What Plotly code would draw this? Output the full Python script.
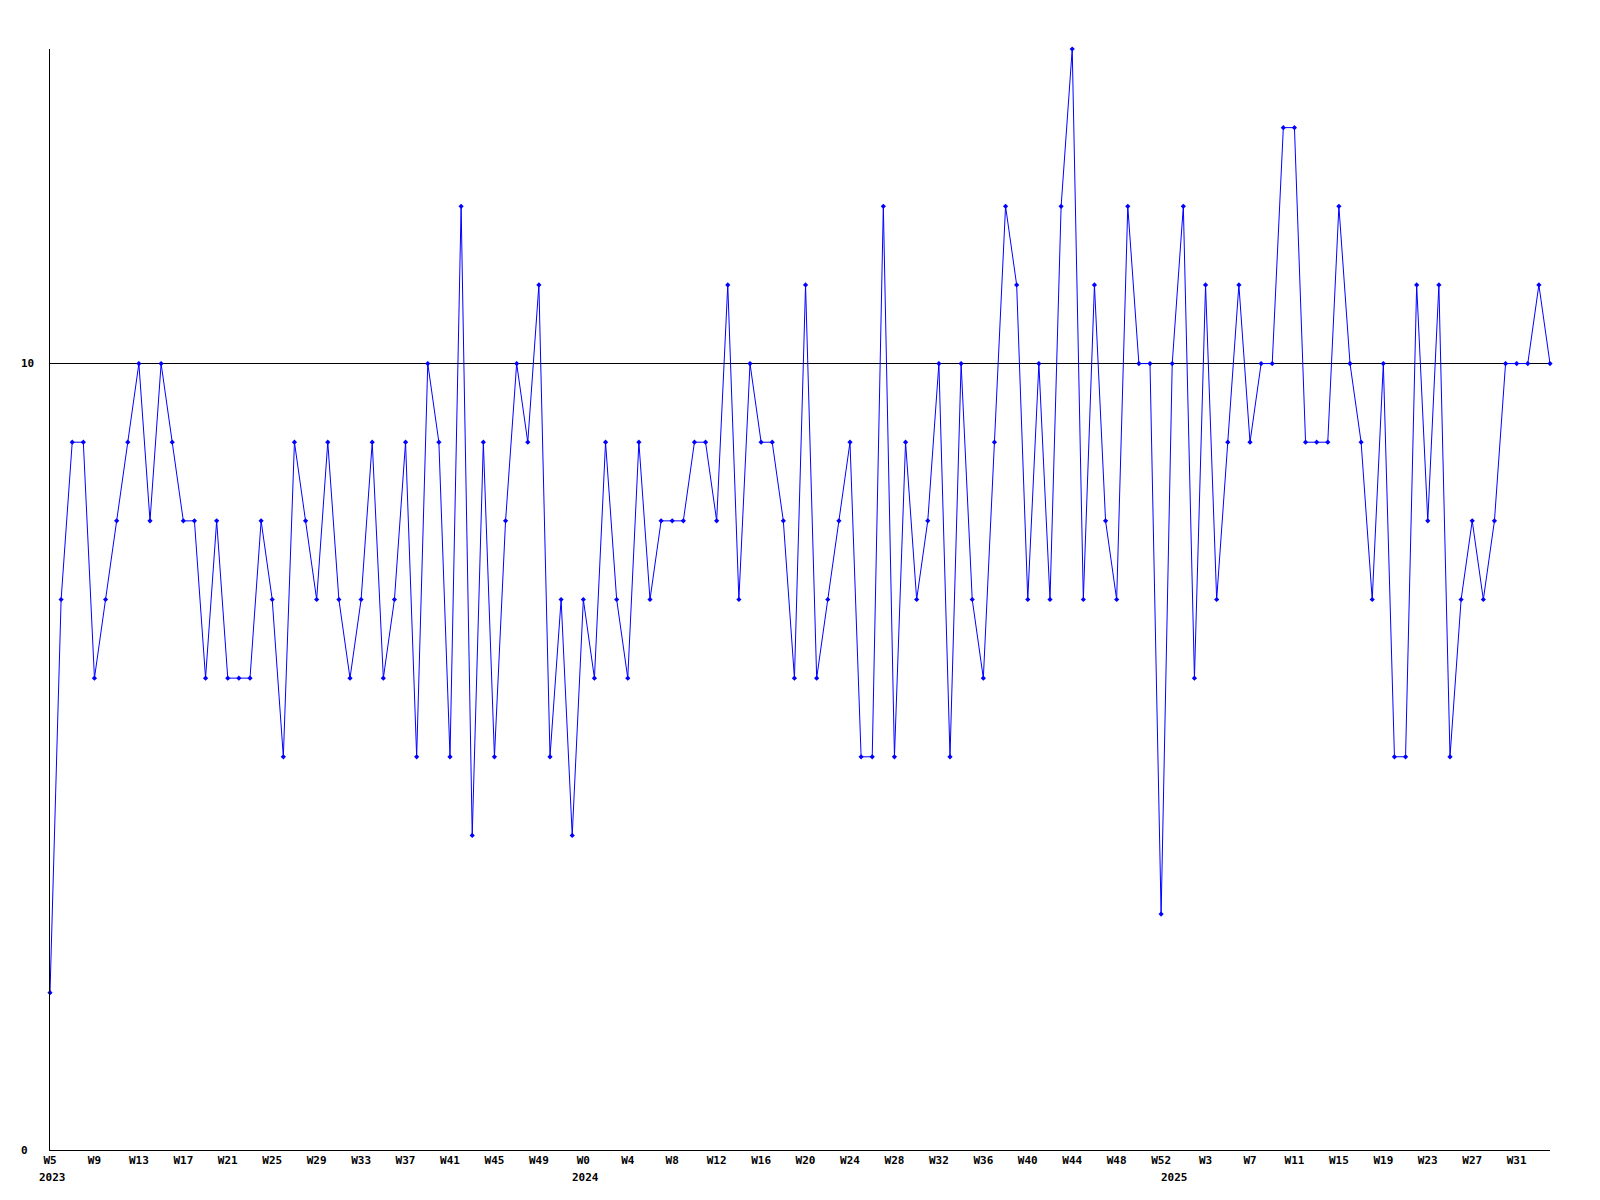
import plotly.graph_objects as go

# Weekly values (index 0 = 2023 W5 ... index 135 = 2025 W34)
values = [
    2, 7, 9, 9, 6, 7, 8, 9, 10, 8, 10, 9, 8, 8, 6, 8, 6, 6, 6, 8, 7, 5, 9, 8, 7, 9,
    7, 6, 7, 9, 6, 7, 9, 5, 10, 9, 5, 12, 4, 9, 5, 8, 10, 9, 11, 5, 7, 4,
    7, 6, 9, 7, 6, 9, 7, 8, 8, 8, 9, 9, 8, 11, 7, 10, 9, 9, 8, 6, 11, 6,
    7, 8, 9, 5, 5, 12, 5, 9, 7, 8, 10, 5, 10, 7, 6, 9, 12, 11, 7, 10, 7, 12,
    14, 7, 11, 8, 7, 12, 10, 10, 3, 10, 12, 6, 11, 7, 9, 11, 9, 10, 10, 13, 13, 9,
    9, 9, 12, 10, 9, 7, 10, 5, 5, 11, 8, 11, 5, 7, 8, 7, 8, 10, 10, 10, 11, 10,
]
x_index = list(range(len(values)))

tick_positions = [0, 4, 8, 12, 16, 20, 24, 28, 32, 36, 40, 44,
                  48, 52, 56, 60, 64, 68, 72, 76, 80, 84, 88, 92, 96, 100,
                  104, 108, 112, 116, 120, 124, 128, 132]
tick_labels = ["W5", "W9", "W13", "W17", "W21", "W25", "W29", "W33", "W37", "W41", "W45", "W49",
               "W0", "W4", "W8", "W12", "W16", "W20", "W24", "W28", "W32", "W36", "W40", "W44", "W48", "W52",
               "W3", "W7", "W11", "W15", "W19", "W23", "W27", "W31"]
year_positions = [0, 48, 101]
year_labels = ["2023", "2024", "2025"]

y_ticks = [0, 10]
y_tick_labels = ["0", "10"]

FONT = "DejaVu Sans Mono"

fig = go.Figure()
fig.add_trace(go.Scatter(
    x=x_index, y=values, mode="lines+markers",
    line=dict(color="#0000ff", width=1),
    marker=dict(symbol="diamond", size=4, color="#0000ff"),
    cliponaxis=False, showlegend=False,
))

annotations = []
for pos, lab in zip(year_positions, year_labels):
    annotations.append(dict(x=pos, y=0, xref="x", yref="paper", text=lab,
                            showarrow=False, xanchor="left", yanchor="middle",
                            xshift=-13, yshift=-27,
                            font=dict(family=FONT, size=11, color="black", weight="bold")))
for val, lab in zip(y_ticks, y_tick_labels):
    annotations.append(dict(x=0, y=val, xref="paper", yref="y", text=lab,
                            showarrow=False, xanchor="left", yanchor="middle",
                            xshift=-31,
                            font=dict(family=FONT, size=11, color="black", weight="bold")))

fig.update_layout(
    width=1600, height=1200,
    margin=dict(l=42, r=58, t=41, b=58),
    paper_bgcolor="white", plot_bgcolor="white",
    showlegend=False,
    annotations=annotations,
    xaxis=dict(range=[0, len(values) - 1], showline=True, linecolor="black", linewidth=1,
               showgrid=False, zeroline=False, ticks="",
               tickmode="array", tickvals=tick_positions, ticktext=tick_labels,
               tickfont=dict(family=FONT, size=11, color="black", weight="bold")),
    yaxis=dict(range=[0, 14], showline=True, linecolor="black", linewidth=1,
               showgrid=True, gridcolor="black", gridwidth=1, zeroline=False,
               tickmode="array", tickvals=y_ticks, showticklabels=False, ticks=""),
)

fig.write_html("out.html")
